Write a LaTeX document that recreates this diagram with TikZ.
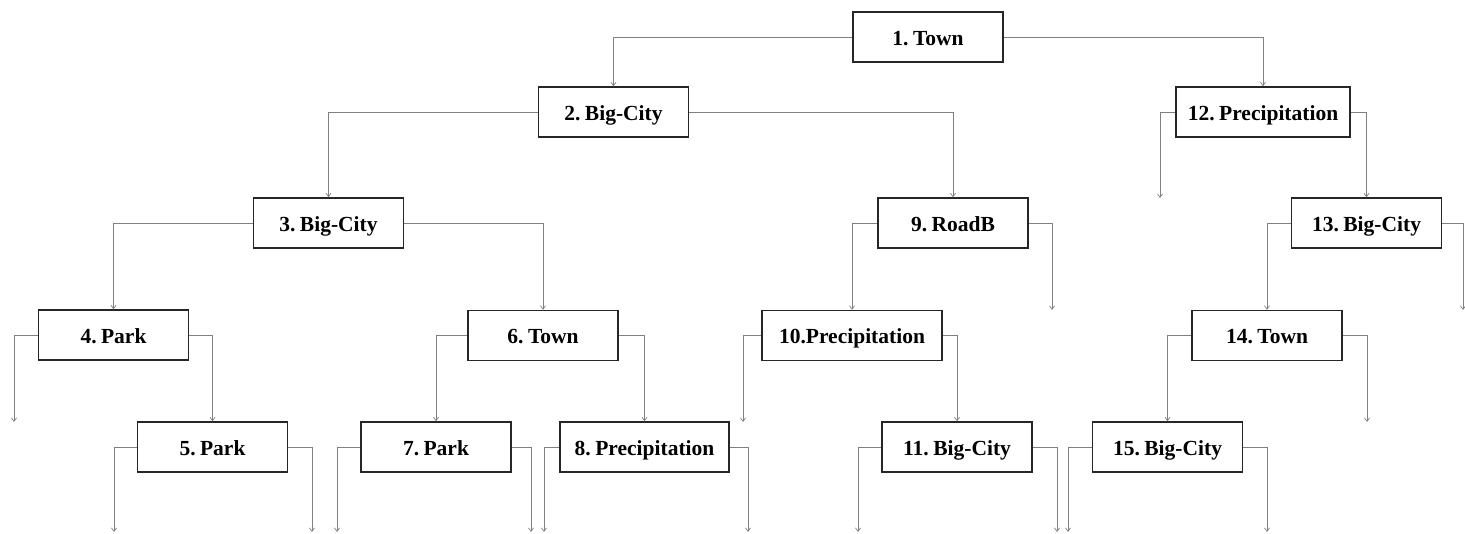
\documentclass[tikz,border=0pt]{standalone}
\usepackage{fontspec}
\setmainfont{Liberation Serif}[WordSpace=0.5]
\usetikzlibrary{arrows.meta}
\begin{document}
\begin{tikzpicture}[x=1pt,y=-1pt,
  split/.style={draw=black!85, line width=1.4pt, fill=white, minimum height=50pt,
    minimum width=150pt, inner sep=0pt, text height=18pt, text depth=2pt,
    font=\fontsize{21.5}{24}\selectfont\bfseries},
  branch/.style={draw=black!50, line width=0.8pt,
    -{Straight Barb[length=3.5pt,width=5pt,line width=0.7pt]}}]
\useasboundingbox (0,0) rectangle (1465,533);

% decision nodes
\node[split] (n1)  at (928,37)     {1. Town};
\node[split] (n2)  at (613.5,112)  {2. Big-City};
\node[split, minimum width=174pt] (n12) at (1263,112) {12. Precipitation};
\node[split] (n3)  at (328.5,223)  {3. Big-City};
\node[split] (n9)  at (953,223)    {9. RoadB};
\node[split] (n13) at (1366.5,223) {13. Big-City};
\node[split] (n4)  at (113.5,335)  {4. Park};
\node[split] (n6)  at (543,335.5)  {6. Town};
\node[split, minimum width=180pt] (n10) at (852,335.5) {10.Precipitation};
\node[split] (n14) at (1267,335.5) {14. Town};
\node[split] (n5)  at (212.5,447)  {5. Park};
\node[split] (n7)  at (436,447)    {7. Park};
\node[split, minimum width=169pt] (n8) at (644.5,447) {8. Precipitation};
\node[split] (n11) at (957,447)    {11. Big-City};
\node[split] (n15) at (1167.5,447) {15. Big-City};

% open branch ends
\coordinate (l12) at (1160,198);
\coordinate (r9)  at (1052,310);
\coordinate (r13) at (1463,310);
\coordinate (l4)  at (14,422);
\coordinate (l10) at (743,422);
\coordinate (r14) at (1367,422);
\coordinate (l5)  at (114,532);
\coordinate (r5)  at (312,532);
\coordinate (l7)  at (337,532);
\coordinate (r7)  at (531,532);
\coordinate (l8)  at (544,532);
\coordinate (r8)  at (748,532);
\coordinate (l11) at (858,532);
\coordinate (r11) at (1057,532);
\coordinate (l15) at (1068,532);
\coordinate (r15) at (1267,532);

% branches
\draw[branch] (n1.west)  -| (n2.north);
\draw[branch] (n1.east)  -| (n12.north);
\draw[branch] (n2.west)  -| (n3.north);
\draw[branch] (n2.east)  -| (n9.north);
\draw[branch] (n12.west) -| (l12);
\draw[branch] (n12.east) -| (n13.north);
\draw[branch] (n3.west)  -| (n4.north);
\draw[branch] (n3.east)  -| (n6.north);
\draw[branch] (n9.west)  -| (n10.north);
\draw[branch] (n9.east)  -| (r9);
\draw[branch] (n13.west) -| (n14.north);
\draw[branch] (n13.east) -| (r13);
\draw[branch] (n4.west)  -| (l4);
\draw[branch] (n4.east)  -| (n5.north);
\draw[branch] (n6.west)  -| (n7.north);
\draw[branch] (n6.east)  -| (n8.north);
\draw[branch] (n10.west) -| (l10);
\draw[branch] (n10.east) -| (n11.north);
\draw[branch] (n14.west) -| (n15.north);
\draw[branch] (n14.east) -| (r14);
\draw[branch] (n5.west)  -| (l5);
\draw[branch] (n5.east)  -| (r5);
\draw[branch] (n7.west)  -| (l7);
\draw[branch] (n7.east)  -| (r7);
\draw[branch] (n8.west)  -| (l8);
\draw[branch] (n8.east)  -| (r8);
\draw[branch] (n11.west) -| (l11);
\draw[branch] (n11.east) -| (r11);
\draw[branch] (n15.west) -| (l15);
\draw[branch] (n15.east) -| (r15);
\end{tikzpicture}
\end{document}
